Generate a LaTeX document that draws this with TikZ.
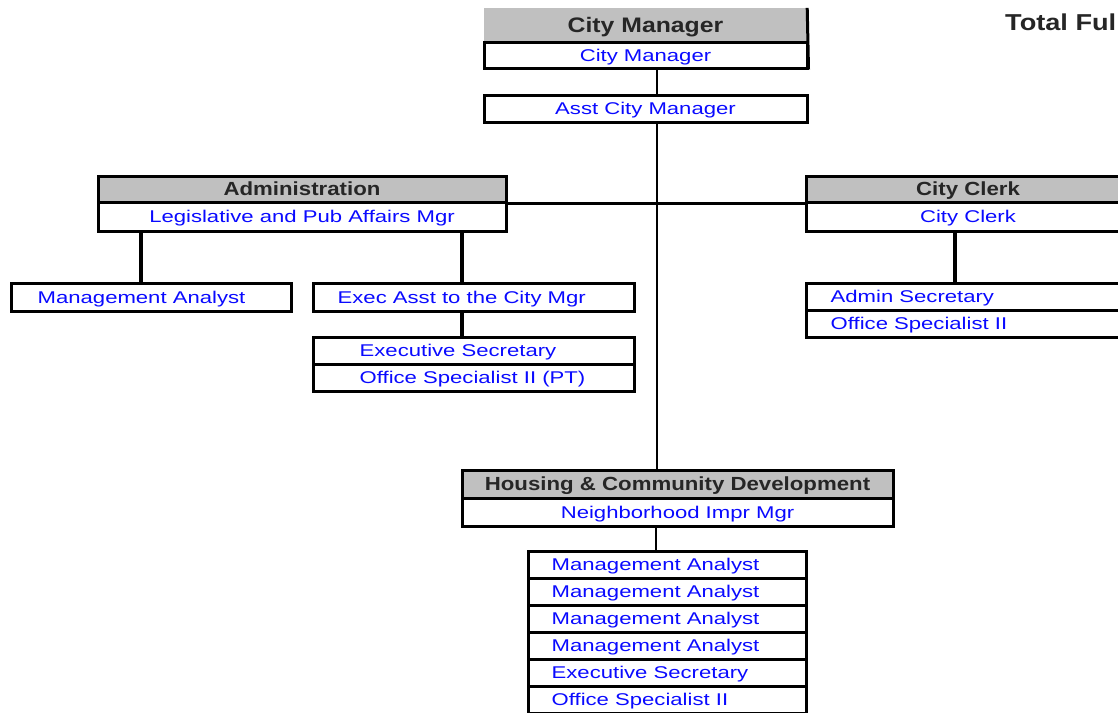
\documentclass[tikz,border=0pt]{standalone}
\usepackage{fontspec}
\newfontfamily\bluefont[FakeStretch=1.3]{Liberation Sans}
\newfontfamily\hdrfontf[FakeStretch=1.17]{Liberation Sans Bold}
\newfontfamily\topfontf[FakeStretch=1.18]{Liberation Sans Bold}
\definecolor{txtblue}{RGB}{10,10,255}
\definecolor{hdrgray}{RGB}{192,192,192}
\tikzset{
  box/.style={draw=black, line width=3pt, fill=white, rectangle, inner sep=0pt},
  hdr/.style={box, fill=hdrgray},
  bt/.style={font=\bluefont\fontsize{17}{20}\selectfont, text=txtblue, text height=12.2pt, text depth=0pt, inner sep=0pt},
  ht/.style={font=\hdrfontf\fontsize{19}{22}\selectfont, text=black!85, text height=13.6pt, text depth=0pt},
  tt/.style={font=\topfontf\fontsize{21}{24}\selectfont, text=black!85, text height=15pt, text depth=0pt, inner sep=0pt},
  thin/.style={line width=2pt},
  thick2/.style={line width=3.5pt}
}
\begin{document}
\begin{tikzpicture}[x=1pt,y=-1pt]
\useasboundingbox (0,0) rectangle (1118,712);
\clip (0,0) rectangle (1118,712);
\fill[white] (0,0) rectangle (1118,712);

% City Manager
\node[rectangle, fill=hdrgray, minimum width=323pt, minimum height=34pt, inner sep=0pt] (cmhdr) at (645.5,25) {};
\node[tt] (cmhdrt) at (cmhdr.center) {City Manager};
\node[box, minimum width=323pt, minimum height=26pt, bt] (cmrow) at (645.5,55) {City Manager};
\draw[line width=3pt] (cmhdr.north east) -- (cmrow.south east);

\node[box, minimum width=323pt, minimum height=27pt, bt] (asst) at (645.5,108.5) {Asst City Manager};

% Total
\node[tt, font=\topfontf\fontsize{23}{26}\selectfont, anchor=west] (total) at (1005,23) {Total Ful};

% Administration
\node[hdr, minimum width=408pt, minimum height=26pt, ht] (adminhdr) at (302,189) {Administration};
\node[box, minimum width=408pt, minimum height=29pt, bt] (adminrow) at (302,216.5) {Legislative and Pub Affairs Mgr};

% City Clerk
\node[hdr, minimum width=324pt, minimum height=26pt, ht] (clerkhdr) at (968,189) {City Clerk};
\node[box, minimum width=324pt, minimum height=29pt, bt] (clerkrow) at (968,216.5) {City Clerk};

% main connectors
\draw[thin] ([xshift=11pt]cmrow.south) -- ([xshift=11pt]asst.north);
\draw[thin] ([xshift=11pt]asst.south) coordinate (mtop) -- (mtop |- 0,470);
\draw[line width=3pt] (adminhdr.south east) -- (clerkhdr.south west);

% Admin children
\node[box, minimum width=280pt, minimum height=28pt] (ma1) at (151,297) {};
\node[bt, anchor=west] (ma1t) at ([xshift=28pt]ma1.west) {Management Analyst};
\node[box, minimum width=321pt, minimum height=28pt] (eacm) at (473.5,297) {};
\node[bt, anchor=west] (eacmt) at ([xshift=26pt]eacm.west) {Exec Asst to the City Mgr};
\draw[thick2] ([xshift=-10pt]ma1.north) -- ([xshift=-10pt]ma1.north |- adminrow.south);
\draw[thick2] ([xshift=-11.5pt]eacm.north) -- ([xshift=-11.5pt]eacm.north |- adminrow.south);

\node[box, minimum width=321pt, minimum height=27pt] (es1) at (473.5,350.5) {};
\node[box, minimum width=321pt, minimum height=27pt] (es2) at (473.5,377.5) {};
\node[bt, anchor=west] (es1t) at ([xshift=48pt]es1.west) {Executive Secretary};
\node[bt, anchor=west] (es2t) at ([xshift=48pt]es2.west) {Office Specialist II (PT)};
\draw[thick2] ([xshift=-11.5pt]eacm.south) -- ([xshift=-11.5pt]es1.north);

% Clerk children
\node[box, minimum width=324pt, minimum height=27pt] (as1) at (968,296.5) {};
\node[box, minimum width=324pt, minimum height=27pt] (os1) at (968,323.5) {};
\node[bt, anchor=west] (as1t) at ([xshift=26pt]as1.west) {Admin Secretary};
\node[bt, anchor=west] (os1t) at ([xshift=26pt]os1.west) {Office Specialist II};
\draw[thick2] ([xshift=-13pt]clerkrow.south) -- ([xshift=-13pt]as1.north);

% Housing
\node[hdr, minimum width=431pt, minimum height=28pt, ht] (hcdhdr) at (677.5,484) {Housing \& Community Development};
\node[box, minimum width=431pt, minimum height=28pt, bt] (hcdrow) at (677.5,512) {Neighborhood Impr Mgr};
\draw[thin] (mtop) -- (mtop |- hcdhdr.north);

\node[box, minimum width=278pt, minimum height=27pt] (s1) at (667,564.5) {};
\node[box, minimum width=278pt, minimum height=27pt] (s2) at (667,591.5) {};
\node[box, minimum width=278pt, minimum height=27pt] (s3) at (667,618.5) {};
\node[box, minimum width=278pt, minimum height=27pt] (s4) at (667,645.5) {};
\node[box, minimum width=278pt, minimum height=27pt] (s5) at (667,672.5) {};
\node[box, minimum width=278pt, minimum height=27pt] (s6) at (667,699.5) {};
\node[bt, anchor=west] (s1t) at ([xshift=25pt]s1.west) {Management Analyst};
\node[bt, anchor=west] (s2t) at ([xshift=25pt]s2.west) {Management Analyst};
\node[bt, anchor=west] (s3t) at ([xshift=25pt]s3.west) {Management Analyst};
\node[bt, anchor=west] (s4t) at ([xshift=25pt]s4.west) {Management Analyst};
\node[bt, anchor=west] (s5t) at ([xshift=25pt]s5.west) {Executive Secretary};
\node[bt, anchor=west] (s6t) at ([xshift=25pt]s6.west) {Office Specialist II};
\draw[thin] ([xshift=-11pt]s1.north) -- ([xshift=-11pt]s1.north |- hcdrow.south);
\end{tikzpicture}
\end{document}
